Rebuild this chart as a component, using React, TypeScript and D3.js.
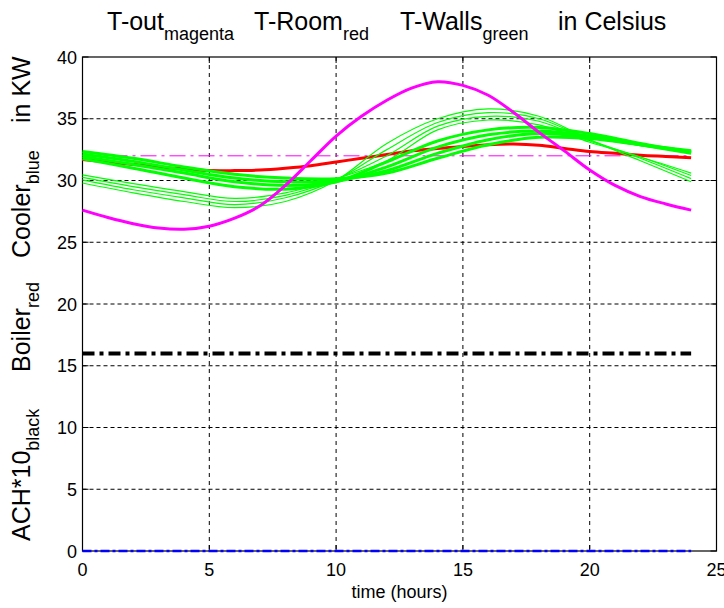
import React from 'react';
import * as d3 from 'd3';

// ---------- data ----------
const hours = [0,1,2,3,4,5,6,7,8,9,10,11,12,13,14,15,16,17,18,19,20,21,22,23,24];
const tOut = [27.6,27.0,26.5,26.15,26.05,26.3,26.95,27.95,29.6,31.6,33.6,35.2,36.5,37.5,38.0,37.7,36.9,35.5,33.9,32.4,30.85,29.6,28.7,28.1,27.6];
const tRoom = [31.7,31.5,31.3,31.1,30.95,30.8,30.8,30.85,31.0,31.2,31.5,31.8,32.1,32.4,32.6,32.75,32.9,32.95,32.85,32.6,32.35,32.2,32.05,31.95,31.85];

const wallHours = [0,2,4,6,8,10,12,14,16,18,20,22,24];
const wallsThick = [
  [31.75,31.0,30.2,29.5,29.3,29.9,31.5,33.2,34.1,34.3,33.8,33.0,32.3],
  [31.95,31.3,30.6,29.9,29.6,29.9,31.1,32.7,33.7,34.0,33.6,32.9,32.2],
  [32.15,31.55,30.85,30.2,29.9,30.0,30.8,32.2,33.3,33.8,33.5,32.9,32.3],
  [32.35,31.8,31.1,30.5,30.2,30.15,30.6,31.8,32.9,33.5,33.4,32.9,32.4],
];
const wallsThin = [
  [29.8,29.0,28.3,27.8,28.3,30.0,33.0,35.0,35.8,35.2,33.3,31.6,29.9],
  [30.05,29.25,28.6,28.05,28.6,30.05,32.5,34.7,35.5,35.0,33.3,31.8,30.15],
  [30.25,29.5,28.85,28.3,28.8,30.1,32.0,34.4,35.2,34.8,33.2,31.9,30.4],
  [30.45,29.75,29.1,28.55,29.0,30.15,31.6,34.1,34.9,34.5,33.1,31.9,30.6],
];

const flatHours = [0,24];
const tRoomSet = [32,32];
const achTimes10 = [16,16];
const cooler = [0,0];

const xTicks = [0,5,10,15,20,25];
const yTicks = [0,5,10,15,20,25,30,35,40];

const titleParts = [
  { main: 'T-out', sub: 'magenta' },
  { main: 'T-Room', sub: 'red' },
  { main: 'T-Walls', sub: 'green' },
  { main: 'in Celsius', sub: '' },
];
const yLabelParts = [
  { main: 'ACH*10', sub: 'black' },
  { main: 'Boiler', sub: 'red' },
  { main: 'Cooler', sub: 'blue' },
  { main: 'in KW', sub: '' },
];
const xLabel = 'time (hours)';

// ---------- layout ----------
const W = 724, H = 608;
const L = 82.5, R = 716.5, T = 57, B = 551;
const FONT = '"Liberation Sans", Arial, Helvetica, sans-serif';

export default function App() {
  const x = d3.scaleLinear().domain([0, 25]).range([L, R]);
  const y = d3.scaleLinear().domain([0, 40]).range([B, T]);
  const line = (xs: number[], ys: number[], curve: any = d3.curveCatmullRom) =>
    d3.line<number>().x((_, i) => x(xs[i])).y((v) => y(v)).curve(curve)(ys) || '';

  const titleX = [107, 254, 400, 558];
  const yLabStart = [541, 372, 258, 123];

  return (
    <svg width={W} height={H} style={{ position: 'absolute', left: 0, top: 0, background: '#fff' }} fontFamily={FONT}>
      <rect x={0} y={0} width={W} height={H} fill="#fff" />
      {/* grid */}
      {xTicks.slice(1, -1).map((t) => (
        <line key={'gx' + t} x1={x(t)} x2={x(t)} y1={T} y2={B} stroke="#000" strokeWidth={1} strokeDasharray="4,4" />
      ))}
      {yTicks.slice(1, -1).map((t) => (
        <line key={'gy' + t} x1={L} x2={R} y1={y(t)} y2={y(t)} stroke="#000" strokeWidth={1} strokeDasharray="4,3" />
      ))}
      {/* box */}
      <rect x={L} y={T} width={R - L} height={B - T} fill="none" stroke="#000" strokeWidth={1.2} />
      {/* ticks */}
      {xTicks.map((t) => (
        <g key={'tx' + t}>
          <line x1={x(t)} x2={x(t)} y1={B} y2={B - 6} stroke="#000" />
          <line x1={x(t)} x2={x(t)} y1={T} y2={T + 6} stroke="#000" />
          <text x={x(t)} y={576} textAnchor="middle" fontSize={18}>{t}</text>
        </g>
      ))}
      {yTicks.map((t) => (
        <g key={'ty' + t}>
          <line x1={L} x2={L + 6} y1={y(t)} y2={y(t)} stroke="#000" />
          <line x1={R} x2={R - 6} y1={y(t)} y2={y(t)} stroke="#000" />
          <text x={77} y={y(t) + 6.5} textAnchor="end" fontSize={18}>{t}</text>
        </g>
      ))}
      {/* flat lines */}
      <path d={line(flatHours, tRoomSet, d3.curveLinear)} fill="none" stroke="#ff00ff" strokeWidth={1} strokeDasharray="16,5,3,5" />
      <path d={line(flatHours, achTimes10, d3.curveLinear)} fill="none" stroke="#000" strokeWidth={4} strokeDasharray="12,5,4,5" />
      <path d={line(flatHours, cooler, d3.curveLinear)} fill="none" stroke="#0000ff" strokeWidth={2.5} strokeDasharray="9,3,3,3" />
      {/* room */}
      <path d={line(hours, tRoom)} fill="none" stroke="#ff0000" strokeWidth={3} />
      {/* walls */}
      {wallsThin.map((s, i) => (
        <path key={'wt' + i} d={line(wallHours, s)} fill="none" stroke="#00ff00" strokeWidth={1.2} />
      ))}
      {wallsThick.map((s, i) => (
        <path key={'wk' + i} d={line(wallHours, s)} fill="none" stroke="#00ff00" strokeWidth={3} />
      ))}
      {/* outside */}
      <path d={line(hours, tOut)} fill="none" stroke="#ff00ff" strokeWidth={3} />
      {/* x label */}
      <text x={(L + R) / 2} y={598} textAnchor="middle" fontSize={18}>{xLabel}</text>
      {/* title */}
      {titleParts.map((p, i) => (
        <text key={'ti' + i} x={titleX[i]} y={30} fontSize={25}>
          {p.main}
          {p.sub && <tspan fontSize={18} dy={10}>{p.sub}</tspan>}
        </text>
      ))}
      {/* y label */}
      {yLabelParts.map((p, i) => (
        <text key={'yl' + i} transform={`translate(30,${yLabStart[i]}) rotate(-90)`} fontSize={25}>
          {p.main}
          {p.sub && <tspan fontSize={18} dy={9}>{p.sub}</tspan>}
        </text>
      ))}
    </svg>
  );
}
